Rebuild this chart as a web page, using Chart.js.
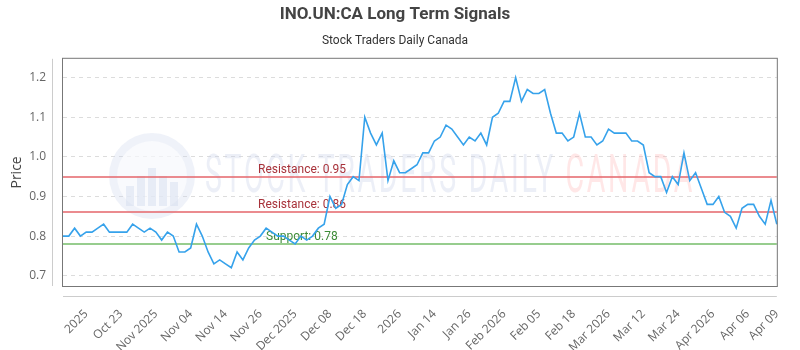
<!DOCTYPE html>
<html>
<head>
<meta charset="utf-8">
<script src="https://cdn.jsdelivr.net/npm/chart.js@4.4.1/dist/chart.umd.min.js"></script>
<style>
  html, body { margin: 0; padding: 0; background: #fff; }
  #wrap { width: 800px; height: 350px; }
</style>
</head>
<body>
<div id="wrap"><canvas id="signalChart"></canvas></div>
<script>
// =====================================================
// DATA
// =====================================================
const prices = [
    0.80, 0.80, 0.82, 0.80, 0.81, 0.81, 0.82, 0.83, 0.81, 0.81,
    0.81, 0.81, 0.83, 0.82, 0.81, 0.82, 0.81, 0.79, 0.81, 0.80,
    0.76, 0.76, 0.77, 0.83, 0.80, 0.76, 0.73, 0.74, 0.73, 0.72,
    0.76, 0.74, 0.77, 0.79, 0.80, 0.82, 0.81, 0.80, 0.80, 0.79,
    0.78, 0.80, 0.79, 0.80, 0.82, 0.83, 0.90, 0.87, 0.88, 0.93,
    0.95, 0.94, 1.10, 1.06, 1.03, 1.06, 0.94, 0.99, 0.96, 0.96,
    0.97, 0.98, 1.01, 1.01, 1.04, 1.05, 1.08, 1.07, 1.05, 1.03,
    1.05, 1.04, 1.06, 1.03, 1.10, 1.11, 1.14, 1.14, 1.20, 1.14,
    1.17, 1.16, 1.16, 1.17, 1.11, 1.06, 1.06, 1.04, 1.05, 1.11,
    1.05, 1.05, 1.03, 1.04, 1.07, 1.06, 1.06, 1.06, 1.04, 1.04,
    1.03, 0.96, 0.95, 0.95, 0.91, 0.95, 0.93, 1.01, 0.94, 0.96,
    0.92, 0.88, 0.88, 0.90, 0.86, 0.85, 0.82, 0.87, 0.88, 0.88,
    0.85, 0.83, 0.89, 0.83
];
const tickLabels = ['2025', 'Oct 23', 'Nov 2025', 'Nov 04', 'Nov 14', 'Nov 26', 'Dec 2025', 'Dec 08', 'Dec 18', '2026',
    'Jan 14', 'Jan 26', 'Feb 2026', 'Feb 05', 'Feb 18', 'Mar 2026', 'Mar 12', 'Mar 24', 'Apr 2026', 'Apr 06', 'Apr 09'];
const tickIndex = [4, 10, 16, 22, 28, 34, 40, 46, 52, 58, 64, 70, 76, 82, 88, 94, 100, 106, 112, 118, 123];
const yTicks = [0.7, 0.8, 0.9, 1.0, 1.1, 1.2];
const resistanceLevels = [0.95, 0.86];
const supportLevels = [0.78];

const labels = prices.map((_, i) => {
    const k = tickIndex.indexOf(i);
    return k >= 0 ? tickLabels[k] : '';
});

// =====================================================
// PLUGINS: watermark, levels, frame
// =====================================================
const watermark = {
    id: 'watermark',
    beforeDatasetsDraw(chart) {
        const ctx = chart.ctx;
        ctx.save();
        // logo circle
        ctx.beginPath();
        ctx.arc(152, 176, 43, 0, Math.PI * 2);
        ctx.fillStyle = 'rgba(205,215,235,0.32)';
        ctx.fill();
        ctx.beginPath();
        ctx.arc(152, 176, 35, 0, Math.PI * 2);
        ctx.fillStyle = 'rgba(255,255,255,0.6)';
        ctx.fill();
        ctx.fillStyle = 'rgba(205,215,235,0.4)';
        [[126, 186, 8, 20], [137, 176, 8, 30], [148, 168, 8, 38], [159, 176, 8, 30], [170, 182, 8, 24]].forEach(b => ctx.fillRect(b[0], b[1], b[2], b[3]));

        ctx.font = '54px Roboto, sans-serif';
        ctx.textBaseline = 'middle';
        ctx.textAlign = 'left';
        ctx.letterSpacing = '5px';
        ctx.fillStyle = 'rgba(200,210,232,0.35)';
        const a = 'STOCK TRADERS DAILY ';
        const wa = ctx.measureText(a).width;
        const wb = ctx.measureText('CANADA').width;
        const sx = 490 / (wa + wb);
        ctx.translate(205, 178);
        ctx.scale(sx, 1);
        ctx.fillText(a, 0, 0);
        ctx.fillStyle = 'rgba(255,175,175,0.3)';
        ctx.fillText('CANADA', wa, 0);
        ctx.restore();
    }
};

const levels = {
    id: 'levels',
    beforeDatasetsDraw(chart) {
        const { ctx, chartArea: a, scales: { y } } = chart;
        ctx.save();
        ctx.font = '12px Roboto, sans-serif';
        ctx.textAlign = 'left';
        ctx.textBaseline = 'alphabetic';
        resistanceLevels.forEach(v => {
            const py = Math.round(y.getPixelForValue(v));
            ctx.strokeStyle = 'rgba(230,110,115,0.8)';
            ctx.lineWidth = 2;
            ctx.beginPath();
            ctx.moveTo(a.left, py);
            ctx.lineTo(a.right, py);
            ctx.stroke();
            ctx.fillStyle = '#a8323a';
            ctx.fillText('Resistance: ' + v.toFixed(2), 258, py - 4);
        });
        supportLevels.forEach(v => {
            const py = Math.round(y.getPixelForValue(v));
            ctx.strokeStyle = 'rgba(140,200,130,0.9)';
            ctx.lineWidth = 2;
            ctx.beginPath();
            ctx.moveTo(a.left, py);
            ctx.lineTo(a.right, py);
            ctx.stroke();
            ctx.fillStyle = '#3d8b37';
            ctx.fillText('Support: ' + v.toFixed(2), 266, py - 4);
        });
        ctx.restore();
    }
};

const frame = {
    id: 'frame',
    afterDraw(chart) {
        const { ctx, chartArea: a } = chart;
        ctx.save();
        ctx.strokeStyle = '#777';
        ctx.lineWidth = 1;
        ctx.strokeRect(a.left - 0.5, a.top - 0.5, a.right - a.left + 1, a.bottom - a.top + 1);
        ctx.strokeStyle = '#ccc';
        ctx.beginPath();
        ctx.moveTo(a.left - 10.5, a.top);
        ctx.lineTo(a.left - 10.5, a.bottom);
        ctx.moveTo(a.left, a.bottom + 10.5);
        ctx.lineTo(a.right, a.bottom + 10.5);
        ctx.stroke();
        ctx.restore();
    }
};

// =====================================================
// CHART
// =====================================================
new Chart(document.getElementById('signalChart'), {
    type: 'line',
    data: {
        labels: labels,
        datasets: [{
            label: 'Price',
            data: prices,
            borderColor: '#36a2eb',
            borderWidth: 1.6,
            pointRadius: 0,
            tension: 0,
            fill: false
        }]
    },
    options: {
        responsive: true,
        maintainAspectRatio: false,
        animation: false,
        layout: { padding: { left: 0, right: 10, top: 0, bottom: 0 } },
        plugins: {
            legend: { display: false },
            tooltip: { enabled: false },
            title: {
                display: true,
                text: 'INO.UN:CA Long Term Signals',
                color: '#444',
                font: { family: 'Roboto', size: 17, weight: 'bold' },
                padding: { top: 5, bottom: 4 }
            },
            subtitle: {
                display: true,
                text: 'Stock Traders Daily Canada',
                color: '#333',
                font: { family: 'Roboto', size: 12 },
                padding: { top: 4, bottom: 11 }
            }
        },
        scales: {
            x: {
                offset: false,
                grid: { display: false },
                border: { display: false },
                afterFit: s => { s.height = 64; },
                ticks: {
                    autoSkip: false,
                    maxRotation: 45,
                    minRotation: 45,
                    padding: 13,
                    color: '#666',
                    font: { family: 'Open Sans', size: 12 },
                    callback: (v, i) => labels[i] || null
                }
            },
            y: {
                min: 0.674,
                max: 1.2475,
                afterFit: s => { s.width = 63; },
                afterBuildTicks: s => { s.ticks = yTicks.map(v => ({ value: v })); },
                grid: { color: '#dcdcdc', drawTicks: false },
                border: { display: true, width: 0, dash: [4, 4] },
                title: {
                    display: true,
                    text: 'Price',
                    color: '#444',
                    font: { family: 'Open Sans', size: 14 },
                    padding: { top: 9, bottom: 0 }
                },
                ticks: {
                    padding: 17,
                    color: '#666',
                    font: { family: 'Open Sans', size: 12 },
                    callback: v => v.toFixed(1)
                }
            }
        }
    },
    plugins: [watermark, levels, frame]
});
</script>
</body>
</html>
